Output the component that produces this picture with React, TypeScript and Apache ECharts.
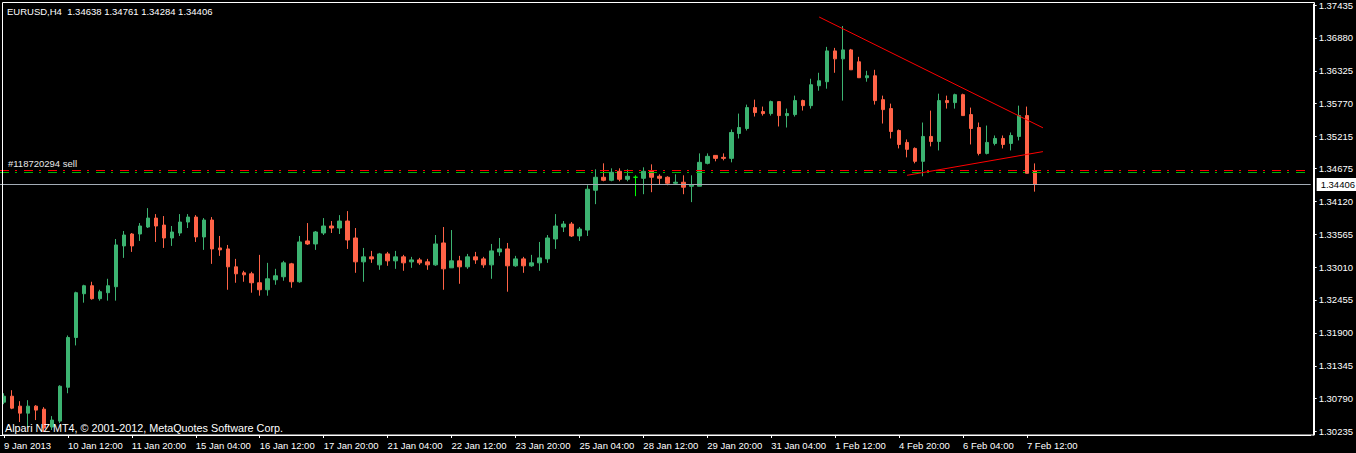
import React, { useEffect, useRef } from 'react';
import * as echarts from 'echarts';

const symbolTitle = 'EURUSD,H4  1.34638 1.34761 1.34284 1.34406';
const copyrightText = 'Alpari NZ MT4, \u00A9 2001-2012, MetaQuotes Software Corp.';
const orderLabel = '#118720294 sell';

const tickLabels = [
  '9 Jan 2013', '10 Jan 12:00', '11 Jan 20:00', '15 Jan 04:00', '16 Jan 12:00', '17 Jan 20:00',
  '21 Jan 04:00', '22 Jan 12:00', '23 Jan 20:00', '25 Jan 04:00', '28 Jan 12:00', '29 Jan 20:00',
  '31 Jan 04:00', '1 Feb 12:00', '4 Feb 20:00', '6 Feb 04:00', '7 Feb 12:00',
];

const priceLabels = [
  1.37435, 1.3688, 1.36325, 1.3577, 1.35215, 1.34675, 1.3412, 1.33565, 1.3301, 1.32455,
  1.319, 1.31345, 1.3079, 1.30235,
];

const opens = [
  1.30730, 1.30831, 1.30663, 1.30545, 1.30663, 1.30612, 1.30310, 1.30411, 1.30982, 1.31822,
  1.32561, 1.32696, 1.32477, 1.32578, 1.32679, 1.33368, 1.33569, 1.33569, 1.33687, 1.33838,
  1.33720, 1.33502, 1.33586, 1.33771, 1.33855, 1.33519, 1.33805, 1.33334, 1.33317, 1.33015,
  1.32914, 1.32897, 1.32746, 1.32628, 1.32796, 1.32847, 1.33065, 1.32763, 1.33452, 1.33401,
  1.33586, 1.33704, 1.33670, 1.33788, 1.33502, 1.33099, 1.33183, 1.33048, 1.33233, 1.33116,
  1.33183, 1.33099, 1.33132, 1.33099, 1.33048, 1.33418, 1.32998, 1.33116, 1.33015, 1.33183,
  1.33149, 1.33048, 1.33267, 1.33317, 1.33032, 1.33149, 1.33032, 1.33082, 1.33149, 1.33485,
  1.33687, 1.33737, 1.33536, 1.33636, 1.34308, 1.34527, 1.34476, 1.34628, 1.34493, 1.34527,
  1.34510, 1.34628, 1.34544, 1.34527, 1.34426, 1.34443, 1.34376, 1.34376, 1.34762, 1.34896,
  1.34863, 1.34846, 1.35266, 1.35350, 1.35703, 1.35636, 1.35602, 1.35804, 1.35568, 1.35585,
  1.35821, 1.35736, 1.36072, 1.36140, 1.36660, 1.36526, 1.36677, 1.36476, 1.36207, 1.36240,
  1.35837, 1.35686, 1.35316, 1.35115, 1.35014, 1.34796, 1.35216, 1.35132, 1.35821, 1.35787,
  1.35921, 1.35585, 1.35367, 1.34930, 1.35098, 1.35182, 1.35098, 1.35216, 1.35568, 1.34638,
];

const closes = [
  1.30831, 1.30629, 1.30545, 1.30663, 1.30596, 1.30293, 1.30428, 1.30999, 1.31822, 1.32578,
  1.32696, 1.32477, 1.32595, 1.32696, 1.33384, 1.33552, 1.33368, 1.33704, 1.33838, 1.33704,
  1.33502, 1.33603, 1.33771, 1.33855, 1.33519, 1.33805, 1.33317, 1.33301, 1.33015, 1.32897,
  1.32880, 1.32746, 1.32628, 1.32813, 1.32864, 1.33082, 1.32763, 1.33435, 1.33401, 1.33603,
  1.33704, 1.33670, 1.33788, 1.33468, 1.33099, 1.33183, 1.33149, 1.33233, 1.33116, 1.33183,
  1.33082, 1.33132, 1.33082, 1.33048, 1.33401, 1.32981, 1.33116, 1.33015, 1.33183, 1.33132,
  1.33048, 1.33284, 1.33317, 1.33032, 1.33149, 1.33032, 1.33082, 1.33166, 1.33502, 1.33704,
  1.33737, 1.33536, 1.33653, 1.34325, 1.34527, 1.34476, 1.34611, 1.34493, 1.34544, 1.34527,
  1.34628, 1.34527, 1.34510, 1.34426, 1.34443, 1.34359, 1.34392, 1.34779, 1.34880, 1.34846,
  1.34846, 1.35283, 1.35367, 1.35703, 1.35619, 1.35602, 1.35804, 1.35568, 1.35602, 1.35821,
  1.35736, 1.36089, 1.36156, 1.36660, 1.36526, 1.36677, 1.36341, 1.36207, 1.36240, 1.35821,
  1.35669, 1.35300, 1.35081, 1.34998, 1.34796, 1.35216, 1.35132, 1.35821, 1.35787, 1.35921,
  1.35568, 1.35350, 1.34930, 1.35115, 1.35182, 1.35081, 1.35232, 1.35568, 1.34594, 1.34406,
];

const highs = [
  1.30881, 1.30932, 1.30747, 1.30764, 1.30680, 1.30646, 1.30495, 1.31016, 1.31856, 1.32595,
  1.32712, 1.32763, 1.32628, 1.32813, 1.33485, 1.33620, 1.33586, 1.33754, 1.34006, 1.33905,
  1.33872, 1.33704, 1.33905, 1.33905, 1.33888, 1.33838, 1.33855, 1.33536, 1.33384, 1.33149,
  1.32948, 1.32931, 1.33217, 1.33082, 1.32981, 1.33116, 1.33082, 1.33536, 1.33754, 1.33620,
  1.33838, 1.33788, 1.33888, 1.33956, 1.33670, 1.33334, 1.33284, 1.33250, 1.33267, 1.33284,
  1.33217, 1.33183, 1.33166, 1.33149, 1.33552, 1.33687, 1.33636, 1.33200, 1.33233, 1.33267,
  1.33183, 1.33401, 1.33502, 1.33418, 1.33200, 1.33183, 1.33217, 1.33435, 1.33552, 1.33905,
  1.33788, 1.33771, 1.33687, 1.34392, 1.34661, 1.34762, 1.34678, 1.34678, 1.34661, 1.34560,
  1.34695, 1.34745, 1.34577, 1.34544, 1.34577, 1.34560, 1.34560, 1.34930, 1.34930, 1.34896,
  1.34930, 1.35333, 1.35602, 1.35753, 1.35837, 1.35720, 1.35821, 1.35804, 1.35686, 1.35905,
  1.35837, 1.36190, 1.36291, 1.36728, 1.36711, 1.37080, 1.36694, 1.36560, 1.36324, 1.36341,
  1.35905, 1.35770, 1.35333, 1.35165, 1.35031, 1.35451, 1.35652, 1.35938, 1.35905, 1.35938,
  1.35938, 1.35703, 1.35451, 1.35400, 1.35232, 1.35232, 1.35283, 1.35736, 1.35720, 1.34761,
];

const lows = [
  1.30696, 1.30612, 1.30394, 1.30310, 1.30428, 1.30226, 1.30260, 1.30377, 1.30881, 1.31688,
  1.32410, 1.32460, 1.32444, 1.32444, 1.32444, 1.33166, 1.33267, 1.33452, 1.33670, 1.33435,
  1.33334, 1.33368, 1.33536, 1.33670, 1.33435, 1.33301, 1.33065, 1.33200, 1.32628, 1.32746,
  1.32763, 1.32578, 1.32528, 1.32528, 1.32712, 1.32780, 1.32662, 1.32746, 1.33384, 1.33301,
  1.33552, 1.33586, 1.33569, 1.33317, 1.32914, 1.32763, 1.33082, 1.32965, 1.33032, 1.32981,
  1.32948, 1.32998, 1.33048, 1.32965, 1.33032, 1.32628, 1.32998, 1.32729, 1.32981, 1.33065,
  1.32998, 1.32813, 1.33200, 1.32595, 1.33015, 1.32914, 1.33015, 1.32948, 1.33082, 1.33317,
  1.33603, 1.33519, 1.33452, 1.33536, 1.34073, 1.34459, 1.34459, 1.34459, 1.34459, 1.34208,
  1.34241, 1.34275, 1.34409, 1.34392, 1.34409, 1.34241, 1.34107, 1.34376, 1.34745, 1.34796,
  1.34812, 1.34779, 1.35182, 1.35316, 1.35552, 1.35568, 1.35568, 1.35384, 1.35367, 1.35552,
  1.35653, 1.35686, 1.35988, 1.36022, 1.36291, 1.35821, 1.36341, 1.36207, 1.36140, 1.35754,
  1.35434, 1.35182, 1.35014, 1.34863, 1.34762, 1.34544, 1.35048, 1.34980, 1.35686, 1.35686,
  1.35568, 1.35081, 1.34896, 1.34913, 1.35065, 1.35014, 1.34980, 1.35149, 1.34594, 1.34284,
];

const bidPrice = [1.34406];
const orderPrices = [1.34640, 1.34619];
const resistanceLine = [[102, 1.37232], [130, 1.35362]];
const supportLine = [[113, 1.3456], [130, 1.3496]];

const SLOT_COUNT = 164;
const TICK_EVERY = 8;
const FONT = '"Liberation Sans", Arial, sans-serif';

function buildCategories(): string[] {
  const out: string[] = [];
  let t = Date.UTC(2013, 0, 9, 4, 0);
  while (out.length < SLOT_COUNT) {
    const d = new Date(t);
    const wd = d.getUTCDay();
    if (wd !== 0 && wd !== 6) {
      out.push(d.toISOString().slice(0, 16).replace('T', ' '));
    }
    t += 4 * 3600 * 1000;
  }
  return out;
}

export default function App() {
  const ref = useRef<HTMLDivElement>(null);

  useEffect(() => {
    if (!ref.current) return;
    const chart = echarts.init(ref.current, undefined, { renderer: 'svg' });
    const categories = buildCategories();
    const candleData = opens.map((o, i) => {
      const v = [o, closes[i], lows[i], highs[i]];
      if (o === closes[i]) {
        return {
          value: v,
          itemStyle: {
            color: '#00ff00', color0: '#00ff00', borderColor: '#00ff00',
            borderColor0: '#00ff00', borderColorDoji: '#00ff00',
          },
        };
      }
      return v;
    });
    const showTick = (index: number) =>
      index % TICK_EVERY === 0 && index / TICK_EVERY < tickLabels.length;

    const orderSeries = (price: number, color: string, z: number) => ({
      type: 'line',
      data: [],
      silent: true,
      z,
      markLine: {
        silent: true,
        symbol: ['none', 'none'],
        precision: 5,
        animation: false,
        lineStyle: { color, type: [9, 6, 2, 7], width: 1, opacity: 1 },
        label: { show: false },
        emphasis: { disabled: true },
        data: [{ yAxis: price }],
      },
    });

    const option: any = {
      animation: false,
      backgroundColor: '#000000',
      grid: { left: -0.7, right: 44.7, top: 2, bottom: 18 },
      xAxis: {
        type: 'category',
        data: categories,
        boundaryGap: true,
        axisLine: { show: true, lineStyle: { color: '#ffffff', width: 1 } },
        axisTick: {
          show: true,
          alignWithLabel: true,
          interval: (index: number) => showTick(index),
          length: 3,
          lineStyle: { color: '#ffffff' },
        },
        axisLabel: {
          show: true,
          interval: (index: number) => showTick(index),
          formatter: (_v: string, index: number) =>
            showTick(index) ? tickLabels[index / TICK_EVERY] : '',
          color: '#ffffff',
          fontSize: 9.5,
          fontFamily: FONT,
          align: 'left',
          margin: 5,
        },
        splitLine: { show: false },
      },
      yAxis: {
        type: 'value',
        position: 'right',
        offset: 3,
        min: 1.30176,
        max: 1.3745,
        scale: true,
        axisLine: { show: true, onZero: false, lineStyle: { color: '#ffffff', width: 1 } },
        axisTick: {
          show: true,
          customValues: priceLabels,
          length: 3,
          lineStyle: { color: '#ffffff' },
        },
        axisLabel: {
          show: true,
          customValues: priceLabels,
          formatter: (v: number) => v.toFixed(5),
          color: '#ffffff',
          fontSize: 9.5,
          fontFamily: FONT,
          margin: 5,
        },
        splitLine: { show: false },
      },
      graphic: [
        {
          type: 'rect',
          silent: true,
          z: 100,
          shape: { x: 2.5, y: 2.5, width: 1312, height: 432.5 },
          style: { fill: 'none', stroke: '#ffffff', lineWidth: 1 },
        },
        {
          type: 'text',
          silent: true,
          x: 7,
          y: 11,
          style: {
            text: symbolTitle, fill: '#ffffff', fontSize: 9.5, fontFamily: FONT,
            verticalAlign: 'middle',
          },
        },
        {
          type: 'text',
          silent: true,
          x: 8,
          y: 163.5,
          style: {
            text: orderLabel, fill: '#e8e8e8', fontSize: 9.5, fontFamily: FONT,
            verticalAlign: 'middle',
          },
        },
        {
          type: 'text',
          silent: true,
          z: 50,
          x: 5,
          y: 428,
          style: {
            text: copyrightText, fill: '#ffffff', fontSize: 10.8, fontFamily: FONT,
            verticalAlign: 'middle',
          },
        },
      ],
      series: [
        orderSeries(orderPrices[1], '#00b400', 1),
        {
          type: 'candlestick',
          data: candleData,
          barWidth: 4,
          z: 3,
          itemStyle: {
            color: '#3cb371',
            color0: '#ff6347',
            borderColor: '#3cb371',
            borderColor0: '#ff6347',
            borderWidth: 1,
          },
          markLine: {
            silent: true,
            symbol: ['none', 'none'],
            precision: 5,
            animation: false,
            data: [
              {
                yAxis: bidPrice[0],
                lineStyle: { color: '#a3abb5', type: 'solid', width: 1 },
                label: {
                  show: true,
                  position: 'end',
                  formatter: bidPrice[0].toFixed(5),
                  color: '#000000',
                  backgroundColor: '#ffffff',
                  padding: [1, 2, 1, 4],
                  distance: 6,
                  fontSize: 9.5,
                  fontFamily: FONT,
                  lineHeight: 11,
                },
              },
              [
                { coord: resistanceLine[0], lineStyle: { color: '#ff0000', type: 'solid', width: 1 }, label: { show: false } },
                { coord: resistanceLine[1] },
              ],
              [
                { coord: supportLine[0], lineStyle: { color: '#ff0000', type: 'solid', width: 1 }, label: { show: false } },
                { coord: supportLine[1] },
              ],
            ],
          },
        },
        orderSeries(orderPrices[0], '#ff0000', 5),
      ],
    };
    chart.setOption(option);
    return () => chart.dispose();
  }, []);

  return (
    <div
      ref={ref}
      style={{ position: 'fixed', left: 0, top: 0, width: 1356, height: 453, background: '#000' }}
    />
  );
}
